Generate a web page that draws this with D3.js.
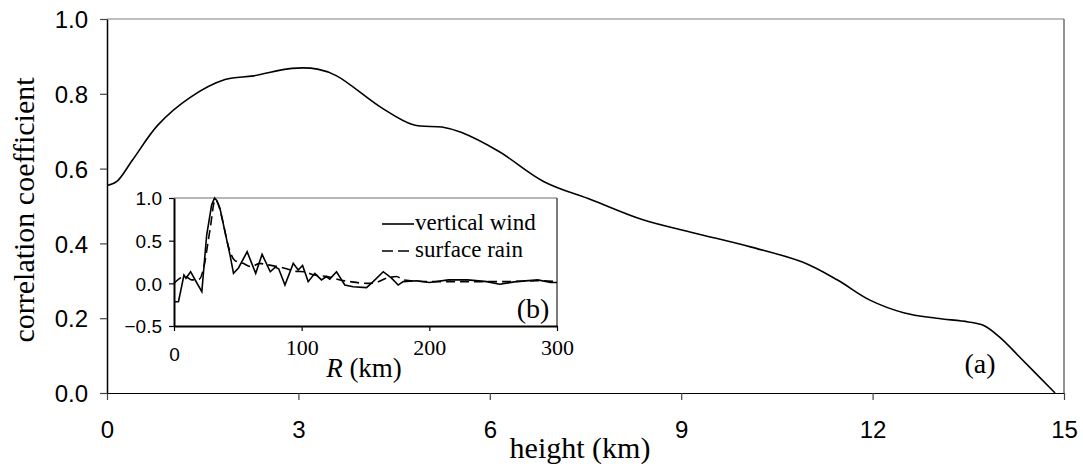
<!DOCTYPE html>
<html>
<head>
<meta charset="utf-8">
<script src="https://d3js.org/d3.v7.min.js"></script>
<style>
  body { margin: 0; background: #fff; }
  svg { display: block; }
</style>
</head>
<body>
<div id="chart-container"></div>
<script>
// main plot (a): correlation coefficient vs height
const heightKm = [0, 0.15, 0.4, 0.8, 1.3, 1.85, 2.3, 2.9, 3.3, 3.6, 4.3, 4.8, 5.25, 5.55, 6.15, 6.85, 7.6, 8.4, 9.2, 10.1, 10.9, 11.45, 11.95, 12.5, 13.0, 13.5, 13.75, 14.0, 14.3, 14.86];
const corrCoef = [0.555, 0.565, 0.623, 0.717, 0.79, 0.838, 0.848, 0.868, 0.866, 0.848, 0.763, 0.717, 0.711, 0.697, 0.645, 0.565, 0.516, 0.463, 0.428, 0.39, 0.35, 0.302, 0.249, 0.214, 0.20, 0.19, 0.18, 0.148, 0.097, 0.0];
const mainXTicks = [0, 3, 6, 9, 12, 15];
const mainYTicks = [0, 0.2, 0.4, 0.6, 0.8, 1.0];

// inset (b): correlation vs radius R
const windR = [0, 3.5, 7.8, 9.4, 13, 16.6, 21.8, 25.6, 29.5, 31.8, 33.6, 36, 40, 43.9, 46.6, 50.5, 57.3, 64, 69, 75.4, 79.3, 82, 86.9, 93.4, 97.3, 100.7, 105.1, 110.3, 115.5, 119.4, 122, 127.3, 133.8, 140.3, 150.8, 156, 163.9, 170.4, 175.6, 179.5, 190, 200, 215, 230, 245, 255, 268, 285, 295, 300];
const windCorr = [-0.215, -0.215, 0.097, 0.06, 0.136, 0.039, -0.098, 0.566, 0.92, 1.0, 0.97, 0.88, 0.6, 0.33, 0.117, 0.18, 0.37, 0.117, 0.34, 0.136, 0.19, 0.17, -0.02, 0.234, 0.156, 0.21, 0.02, 0.117, 0.04, 0.08, 0.05, 0.136, -0.02, -0.04, -0.05, 0.02, 0.136, 0.06, -0.02, 0.02, 0.03, 0.01, 0.04, 0.04, 0.02, -0.01, 0.02, 0.04, 0.01, 0.01];
const rainR = [0, 8.6, 14, 20, 22.9, 28.3, 32.2, 34.8, 38.3, 42.3, 47.5, 54, 60.6, 67, 72.3, 80, 88.2, 95.6, 101.8, 109.6, 120, 130, 137.9, 151, 158, 166.6, 174.4, 179.6, 200, 230, 260, 285, 300];
const rainCorr = [0.0, 0.08, 0.04, 0.05, 0.16, 0.64, 0.98, 0.92, 0.72, 0.45, 0.27, 0.234, 0.195, 0.234, 0.22, 0.2, 0.17, 0.14, 0.136, 0.097, 0.08, 0.04, 0.02, 0.0, 0.01, 0.06, 0.08, 0.04, 0.02, 0.02, 0.02, 0.03, 0.02];
const insetXTicks = [0, 100, 200, 300];
const insetYTicks = [-0.5, 0, 0.5, 1.0];

const svgWidth = 1083;
const svgHeight = 467;

const sansFont = "'Liberation Sans', Arial, sans-serif";
const serifFont = "'Liberation Serif', 'Times New Roman', serif";

const svg = d3.select("#chart-container").append("svg")
    .attr("width", svgWidth)
    .attr("height", svgHeight);

// main plot area
const plot = { left: 107, right: 1064, top: 19, bottom: 393 };

const x = d3.scaleLinear().domain([0, 15]).range([plot.left, plot.right]);
const y = d3.scaleLinear().domain([0, 1]).range([plot.bottom, plot.top]);

// top and right frame lines (gray)
svg.append("line")
    .attr("x1", plot.left).attr("x2", plot.right)
    .attr("y1", plot.top).attr("y2", plot.top)
    .attr("stroke", "#7f7f7f").attr("stroke-width", 1.2);
svg.append("line")
    .attr("x1", plot.right).attr("x2", plot.right)
    .attr("y1", plot.top).attr("y2", plot.bottom)
    .attr("stroke", "#6f6f6f").attr("stroke-width", 1.5);

// x axis
const xAxis = svg.append("g")
    .attr("transform", `translate(0,${plot.bottom})`)
    .call(d3.axisBottom(x).tickValues(mainXTicks).tickSize(7).tickSizeOuter(0).tickFormat(d3.format("d")));
xAxis.select(".domain").attr("stroke", "#000").attr("stroke-width", 1.2);
xAxis.selectAll(".tick line").attr("stroke", "#444").attr("stroke-width", 1.2);
xAxis.selectAll(".tick text")
    .attr("y", 45)
    .attr("dy", null)
    .style("font-family", sansFont)
    .style("font-size", "24px")
    .attr("fill", "#000");

// y axis
const yAxis = svg.append("g")
    .attr("transform", `translate(${plot.left},0)`)
    .call(d3.axisLeft(y).tickValues(mainYTicks).tickSize(7).tickSizeOuter(0).tickPadding(12).tickFormat(d3.format(".1f")));
yAxis.select(".domain").attr("stroke", "#000").attr("stroke-width", 1.5);
yAxis.selectAll(".tick line").attr("stroke", "#444").attr("stroke-width", 1.2);
yAxis.selectAll(".tick text")
    .attr("dy", "0.36em")
    .style("font-family", sansFont)
    .style("font-size", "24px")
    .attr("fill", "#000");

// main curve, smooth like the original
const mainLine = d3.line()
    .x((d, i) => x(heightKm[i]))
    .y(d => y(d))
    .curve(d3.curveCatmullRom.alpha(0.5));

svg.append("path")
    .datum(corrCoef)
    .attr("d", mainLine)
    .attr("fill", "none")
    .attr("stroke", "#000")
    .attr("stroke-width", 1.6);

// axis titles
svg.append("text")
    .attr("x", 580)
    .attr("y", 458)
    .attr("text-anchor", "middle")
    .style("font-family", serifFont)
    .style("font-size", "30px")
    .text("height (km)");

svg.append("text")
    .attr("transform", "translate(34,210) rotate(-90)")
    .attr("text-anchor", "middle")
    .style("font-family", serifFont)
    .style("font-size", "30px")
    .text("correlation coefficient");

// panel label (a)
svg.append("text")
    .attr("x", 980)
    .attr("y", 373)
    .attr("text-anchor", "middle")
    .style("font-family", serifFont)
    .style("font-size", "28px")
    .text("(a)");

// ---- inset (b) ----
const inset = { left: 174, right: 557, top: 198, bottom: 326 };

const xi = d3.scaleLinear().domain([0, 300]).range([inset.left, inset.right]);
const yi = d3.scaleLinear().domain([-0.5, 1.0]).range([inset.bottom, inset.top]);

svg.append("rect")
    .attr("x", inset.left)
    .attr("y", inset.top)
    .attr("width", inset.right - inset.left)
    .attr("height", inset.bottom - inset.top)
    .attr("fill", "#fff");

// top and right frame of inset
svg.append("line")
    .attr("x1", inset.left).attr("x2", inset.right)
    .attr("y1", inset.top).attr("y2", inset.top)
    .attr("stroke", "#6f6f6f").attr("stroke-width", 1.2);
svg.append("line")
    .attr("x1", inset.right).attr("x2", inset.right)
    .attr("y1", inset.top).attr("y2", inset.bottom)
    .attr("stroke", "#222").attr("stroke-width", 1.2);

// inset curves
const windLine = d3.line()
    .x((d, i) => xi(windR[i]))
    .y(d => yi(d));

const rainLine = d3.line()
    .x((d, i) => xi(rainR[i]))
    .y(d => yi(d))
    .curve(d3.curveMonotoneX);

svg.append("path")
    .datum(rainCorr)
    .attr("d", rainLine)
    .attr("fill", "none")
    .attr("stroke", "#000")
    .attr("stroke-width", 1.6)
    .attr("stroke-dasharray", "9,5");

svg.append("path")
    .datum(windCorr)
    .attr("d", windLine)
    .attr("fill", "none")
    .attr("stroke", "#000")
    .attr("stroke-width", 1.6);

// inset x axis
const xiAxis = svg.append("g")
    .attr("transform", `translate(0,${inset.bottom})`)
    .call(d3.axisBottom(xi).tickValues(insetXTicks).tickSize(5).tickSizeOuter(0));
xiAxis.select(".domain").attr("stroke", "#000").attr("stroke-width", 2);
xiAxis.selectAll(".tick line").attr("stroke", "#000").attr("stroke-width", 1.2);
xiAxis.selectAll(".tick text")
    .attr("dy", null)
    .attr("y", d => d === 0 ? 35 : 29)
    .style("font-family", d => d === 0 ? sansFont : serifFont)
    .style("font-size", d => d === 0 ? "19px" : "22px")
    .attr("fill", "#000");

// inset y axis
const yiAxis = svg.append("g")
    .attr("transform", `translate(${inset.left},0)`)
    .call(d3.axisLeft(yi).tickValues(insetYTicks).tickSize(5).tickSizeOuter(0).tickPadding(7).tickFormat(d3.format(".1f")));
yiAxis.select(".domain").attr("stroke", "#000").attr("stroke-width", 2);
yiAxis.selectAll(".tick line").attr("stroke", "#000").attr("stroke-width", 1.2);
yiAxis.selectAll(".tick text")
    .attr("dy", "0.36em")
    .style("font-family", sansFont)
    .style("font-size", "19px")
    .attr("fill", "#000");

// inset x title: italic R
const rTitle = svg.append("text")
    .attr("x", 364)
    .attr("y", 377)
    .attr("text-anchor", "middle")
    .style("font-family", serifFont)
    .style("font-size", "27px");
rTitle.append("tspan").style("font-style", "italic").text("R");
rTitle.append("tspan").text(" (km)");

// legend
const legendItems = [
    { label: "vertical wind", dash: null, yPos: 224 },
    { label: "surface rain", dash: "11,5", yPos: 251 }
];
legendItems.forEach(item => {
    svg.append("line")
        .attr("x1", 382).attr("x2", 414)
        .attr("y1", item.yPos).attr("y2", item.yPos)
        .attr("stroke", "#000")
        .attr("stroke-width", 1.6)
        .attr("stroke-dasharray", item.dash);
    svg.append("text")
        .attr("x", 415)
        .attr("y", item.yPos + 6)
        .style("font-family", serifFont)
        .style("font-size", "23px")
        .text(item.label);
});

// panel label (b)
svg.append("text")
    .attr("x", 533)
    .attr("y", 318)
    .attr("text-anchor", "middle")
    .style("font-family", serifFont)
    .style("font-size", "28px")
    .text("(b)");
</script>
</body>
</html>
